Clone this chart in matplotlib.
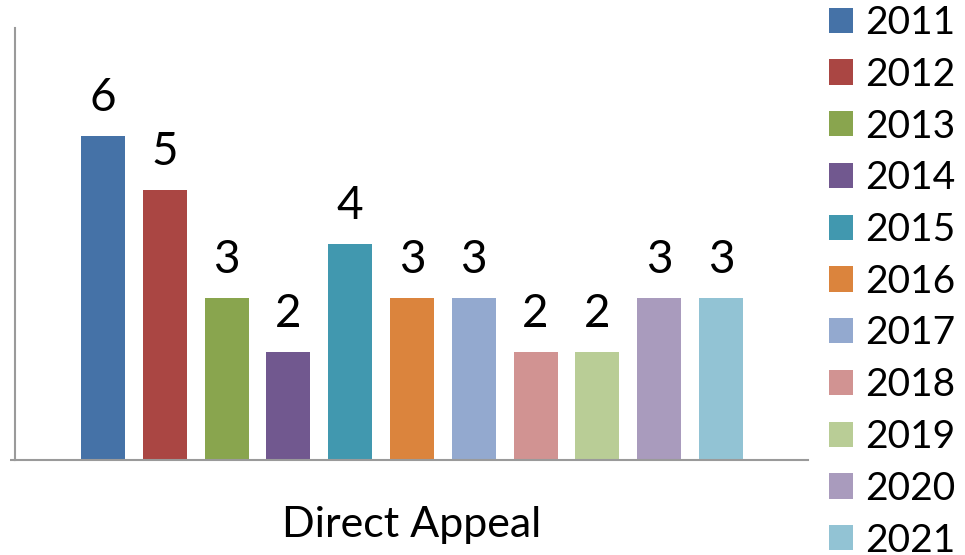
import matplotlib
matplotlib.use("Agg")
import matplotlib.pyplot as plt

years = ["2011", "2012", "2013", "2014", "2015", "2016",
         "2017", "2018", "2019", "2020", "2021"]
counts = [6, 5, 3, 2, 4, 3, 3, 2, 2, 3, 3]
category = "Direct Appeal"
colors = ["#4572A7", "#AA4643", "#89A54E", "#71588F", "#4198AF", "#DB843D",
          "#93A9CF", "#D19392", "#B9CD96", "#A99BBD", "#92C3D4"]

plt.rcParams["font.family"] = ["Lato", "DejaVu Sans"]

W, H = 965, 555
fig = plt.figure(figsize=(W / 100, H / 100), dpi=100)
ax = fig.add_axes([15 / W, (H - 460) / H, (808 - 15) / W, (460 - 28) / H])

width = 0.712
bars = []
for i, (yr, v, c) in enumerate(zip(years, counts, colors)):
    b = ax.bar(i, v, width=width, color=c, label=yr)
    ax.bar_label(b, labels=[str(v)], padding=12.5, fontsize=33)
    bars.append(b)

ax.set_xlim(-1.424, 11.41)
ax.set_ylim(0, 8)

for s in ("top", "right"):
    ax.spines[s].set_visible(False)
for s in ("left", "bottom"):
    ax.spines[s].set_color("#9a9a9a")
    ax.spines[s].set_linewidth(1.5)

ax.set_xticks([5])
ax.set_xticklabels([category], fontsize=31)
ax.tick_params(axis="x", length=0, pad=33)
ax.set_yticks([0])
ax.set_yticklabels([""])
ax.tick_params(axis="y", length=3.6, width=1.5, color="#9a9a9a")

fig.legend(handles=[b for b in bars], labels=years, loc="upper left",
           bbox_to_anchor=(829 / W, 1 - 5 / H), frameon=False, fontsize=28,
           handlelength=0.62, handleheight=0.62, handletextpad=0.3,
           labelspacing=0.405, borderaxespad=0, borderpad=0)

fig.savefig("out.png", dpi=100)
